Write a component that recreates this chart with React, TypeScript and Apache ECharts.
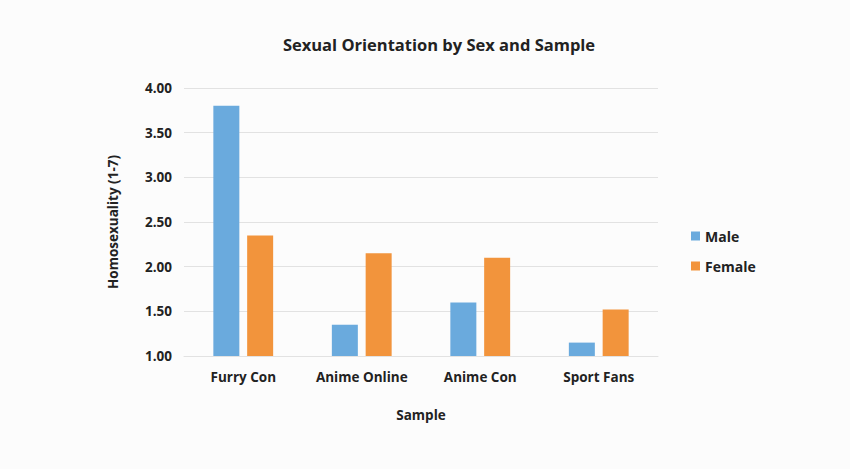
import React, { useEffect, useRef } from "react";
import * as echarts from "echarts";

const categories = ["Furry Con", "Anime Online", "Anime Con", "Sport Fans"];
const maleValues = [3.8, 1.35, 1.6, 1.15];
const femaleValues = [2.35, 2.15, 2.1, 1.52];
const yMin = 1;
const yMax = 4;
const yInterval = 0.5;

const FONT = "'Open Sans', 'Liberation Sans', sans-serif";

export default function App() {
  const ref = useRef<HTMLDivElement>(null);
  useEffect(() => {
    if (!ref.current) return;
    const chart = echarts.init(ref.current, undefined, { renderer: "svg" });
    chart.setOption({
      animation: false,
      backgroundColor: "#fcfcfc",
      title: {
        text: "Sexual Orientation by Sex and Sample",
        left: 434,
        textAlign: "center",
        top: 31,
        textStyle: { fontFamily: FONT, fontSize: 16.5, fontWeight: "bold", color: "#222" },
      },
      legend: {
        orient: "vertical",
        left: 686,
        top: 224,
        itemWidth: 9,
        itemHeight: 9,
        itemGap: 16,
        icon: "rect",
        textStyle: { fontFamily: FONT, fontSize: 14, fontWeight: "bold", color: "#222" },
        data: ["Male", "Female"],
      },
      grid: { left: 184, right: 192, top: 88, bottom: 113 },
      xAxis: {
        type: "category",
        data: categories,
        name: "Sample",
        nameLocation: "middle",
        nameGap: 52,
        nameTextStyle: { fontFamily: FONT, fontSize: 13.5, fontWeight: "bold", color: "#222" },
        axisLine: { show: true, lineStyle: { color: "#e2e2e2" } },
        axisTick: { show: false },
        axisLabel: {
          interval: 0,
          hideOverlap: false,
          fontFamily: FONT,
          fontSize: 13.5,
          fontWeight: "bold",
          color: "#222",
          margin: 14,
        },
      },
      yAxis: {
        type: "value",
        min: yMin,
        max: yMax,
        interval: yInterval,
        name: "Homosexuality (1-7)",
        nameLocation: "middle",
        nameGap: 64,
        nameTextStyle: { fontFamily: FONT, fontSize: 13.5, fontWeight: "bold", color: "#222" },
        axisLine: { show: false },
        axisTick: { show: false },
        splitLine: { lineStyle: { color: "#e2e2e2" } },
        axisLabel: {
          fontFamily: FONT,
          fontSize: 13.5,
          fontWeight: "bold",
          color: "#222",
          margin: 12,
          formatter: (v: number) => v.toFixed(2),
        },
      },
      series: [
        {
          name: "Male",
          type: "bar",
          data: maleValues,
          barWidth: 26,
          barGap: "30%",
          itemStyle: { color: "#6aaadd" },
        },
        {
          name: "Female",
          type: "bar",
          data: femaleValues,
          barWidth: 26,
          barGap: "30%",
          itemStyle: { color: "#f2943c" },
        },
      ],
    });
    return () => chart.dispose();
  }, []);
  return (
    <div
      ref={ref}
      style={{ position: "fixed", left: 0, top: 0, width: 850, height: 469 }}
    />
  );
}
